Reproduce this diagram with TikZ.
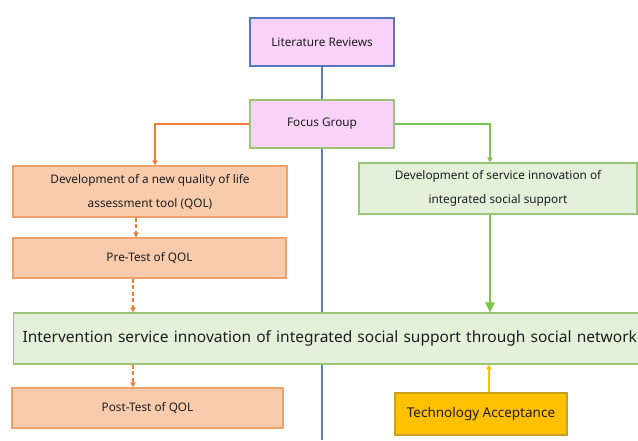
\documentclass[tikz,border=0pt]{standalone}
\usepackage{fontspec}
\setmainfont{Noto Sans}
\usetikzlibrary{arrows.meta,backgrounds,calc}
\definecolor{pinkfill}{HTML}{F9D2F9}
\definecolor{bluebd}{HTML}{5577C0}
\definecolor{greenbd}{HTML}{9CC57A}
\definecolor{greenfill}{HTML}{E3F0DA}
\definecolor{orangefill}{HTML}{F8CBAD}
\definecolor{orangebd}{HTML}{F0A06A}
\definecolor{orangeln}{HTML}{EE7D35}
\definecolor{greenln}{HTML}{7DC44E}
\definecolor{goldfill}{HTML}{FFC000}
\definecolor{goldbd}{HTML}{C9A020}
\definecolor{blueln}{HTML}{5A7CC0}
\definecolor{txt}{HTML}{1E1E1E}
\tikzset{
  box/.style={draw, line width=1.1pt, inner sep=0pt, align=center, text=txt,
    font=\fontsize{11.8}{24}\selectfont},
  pinkbox/.style={box, fill=pinkfill},
  orbox/.style={box, fill=orangefill, draw=orangebd},
  grbox/.style={box, fill=greenfill, draw=greenbd},
  goldbox/.style={box, fill=goldfill, draw=goldbd, font=\fontsize{13.5}{16}\selectfont},
  orarrow/.style={draw=orangeln, line width=1.2pt, -{Triangle[width=5pt,length=5pt]}},
  ordash/.style={orarrow, dash pattern=on 4pt off 2.5pt},
  grarrow/.style={draw=greenln, line width=2pt, -{Triangle[width=9pt,length=10pt]}},
  grline/.style={draw=greenln, line width=1.5pt, -{Triangle[width=5pt,length=5pt]}},
  goarrow/.style={draw=goldfill, line width=1.5pt, -{Triangle[width=5pt,length=5pt]}},
  blline/.style={draw=blueln, line width=1.5pt}
}
\begin{document}
\begin{tikzpicture}[x=1pt,y=-1pt]
\useasboundingbox (0,0) rectangle (638,440);
\clip (0,0) rectangle (638,440);
\node[pinkbox, draw=bluebd, minimum width=144pt, minimum height=48pt] (lit) at (322,42) {Literature Reviews};
\node[pinkbox, draw=greenbd, minimum width=144pt, minimum height=48pt] (focus) at (322,124) {Focus Group};
\node[orbox, minimum width=274pt, minimum height=51pt] (devq) at (150,191.5) {Development of a new quality of life\\assessment tool (QOL)};
\node[grbox, minimum width=278pt, minimum height=51pt] (devs) at (498,188.5) {Development of service innovation of\\integrated social support};
\node[orbox, minimum width=273pt, minimum height=40pt] (pre) at (149.5,258) {Pre-Test of QOL};
\node[grbox, anchor=west, minimum height=51pt, text width=660pt, inner xsep=9pt, align=left,
  font=\fontsize{15.5}{18}\selectfont] (int) at (13,338.5) {Intervention service innovation of integrated social support through social network};
\node[orbox, minimum width=271pt, minimum height=40pt] (post) at (147.5,408) {Post-Test of QOL};
\node[goldbox, minimum width=172pt, minimum height=42pt] (tech) at (481,414) {Technology Acceptance};
\coordinate (bottom) at (322,440);
\begin{scope}[on background layer]
\fill[white] (0,0) rectangle (638,440);
\draw[blline] (lit.south) -- (focus.north);
\draw[blline] (focus.south) -- (bottom);
\end{scope}
\draw[orarrow] (focus.west) -| ([xshift=5pt]devq.north);
\draw[grline] (focus.east) -| ([xshift=-8pt]devs.north);
\draw[ordash] ([xshift=-14pt]devq.south) -- ([xshift=-14pt]devq.south |- pre.north);
\draw[ordash] ([xshift=-16.5pt]pre.south) -- ([xshift=-16.5pt]pre.south |- int.north);
\draw[grarrow] ([xshift=-8pt]devs.south) -- ([xshift=-8pt]devs.south |- int.north);
\draw[ordash] ([xshift=-14.5pt]post.north |- int.south) -- ([xshift=-14.5pt]post.north);
\draw[goarrow] ([xshift=8pt]tech.north) -- ([xshift=8pt]tech.north |- int.south);
\end{tikzpicture}
\end{document}
